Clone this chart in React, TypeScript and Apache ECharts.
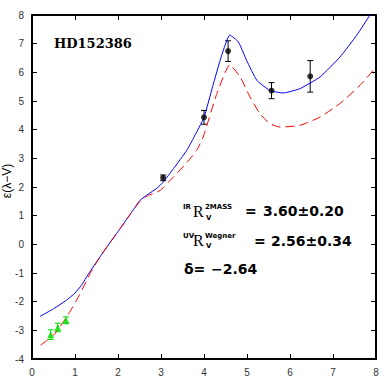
import React, { useEffect, useRef } from "react";
import * as echarts from "echarts";

const blueX = [0.19, 0.5, 0.8, 1.0, 1.15, 1.31, 1.58, 1.81, 2.05, 2.28, 2.51, 2.7, 2.9, 3.05, 3.29, 3.6, 3.75, 4.0, 4.2, 4.41, 4.6, 4.8, 4.99, 5.23, 5.53, 5.84, 6.23, 6.7, 7.16, 7.55, 7.86, 8.0];
const blueY = [-2.51, -2.25, -1.95, -1.7, -1.43, -1.04, -0.44, 0.05, 0.55, 1.04, 1.53, 1.75, 1.95, 2.17, 2.64, 3.28, 3.69, 4.43, 5.5, 6.59, 7.3, 7.06, 6.42, 5.72, 5.37, 5.28, 5.43, 5.84, 6.53, 7.29, 8.0, 8.35];
const redX = [0.2, 0.5, 0.81, 1.12, 1.35, 1.58, 1.81, 2.05, 2.28, 2.51, 2.7, 2.98, 3.29, 3.6, 3.83, 3.98, 4.3, 4.6, 4.84, 5.07, 5.3, 5.53, 5.77, 6.23, 6.7, 7.16, 7.63, 8.0];
const redY = [-3.52, -3.17, -2.53, -1.72, -1.02, -0.44, 0.05, 0.55, 1.04, 1.5, 1.7, 1.88, 2.35, 2.85, 3.28, 3.74, 5.26, 6.27, 5.84, 5.14, 4.56, 4.21, 4.09, 4.15, 4.44, 4.91, 5.55, 6.18];
const obsX = [3.05, 4.0, 4.56, 5.57, 6.47];
const obsY = [2.32, 4.43, 6.74, 5.36, 5.86];
const obsErr = [0.1, 0.24, 0.36, 0.28, 0.55];
const nirX = [0.435, 0.6, 0.79];
const nirY = [-3.15, -2.9, -2.65];
const nirErr = [0.17, 0.15, 0.12];
const xTicks = [0, 1, 2, 3, 4, 5, 6, 7, 8];
const yTicks = [-4, -3, -2, -1, 0, 1, 2, 3, 4, 5, 6, 7, 8];

function errRender(color: string) {
  return (params: any, api: any) => {
    const x = api.value(0), y = api.value(1), e = api.value(2);
    const t = api.coord([x, y + e]);
    const b = api.coord([x, y - e]);
    const w = 3;
    const st = { stroke: color, lineWidth: 1 };
    return {
      type: "group",
      children: [
        { type: "line", shape: { x1: t[0], y1: t[1], x2: b[0], y2: b[1] }, style: st },
        { type: "line", shape: { x1: t[0] - w, y1: t[1], x2: t[0] + w, y2: t[1] }, style: st },
        { type: "line", shape: { x1: b[0] - w, y1: b[1], x2: b[0] + w, y2: b[1] }, style: st },
      ],
    };
  };
}

export default function App() {
  const ref = useRef<HTMLDivElement>(null);
  useEffect(() => {
    const chart = echarts.init(ref.current!, null, { renderer: "svg" });
    const axisLine = { show: true, onZero: false, lineStyle: { color: "#000", width: 2 } };
    const tick = { show: true, inside: true, length: 5, lineStyle: { color: "#000", width: 1 } };
    const lbl = { color: "#333", fontSize: 10, fontFamily: "Liberation Sans, Arial, sans-serif" };
    const sans = "DejaVu Sans, sans-serif";
    const t = (x: number, y: number, text: string, fontSize: number, extra: any = {}) => ({
      type: "text", x, y,
      style: { text, fontSize, fontWeight: "bold", fontFamily: sans, fill: "#000", verticalAlign: "middle", ...extra },
    });
    const rSerif = { fontWeight: "normal", fontFamily: "Liberation Serif, serif" };
    chart.setOption({
      animation: false,
      grid: { left: 32, right: 6, top: 15, bottom: 24, containLabel: false },
      xAxis: [
        { type: "value", min: 0, max: 8, interval: 1, position: "bottom", axisLine, axisTick: tick, splitLine: { show: false }, axisLabel: { ...lbl, margin: 8, formatter: (v: number) => (xTicks.includes(v) ? String(v) : "") } },
        { type: "value", min: 0, max: 8, interval: 1, position: "top", axisLine, axisTick: tick, splitLine: { show: false }, axisLabel: { show: false } },
      ],
      yAxis: [
        { type: "value", min: -4, max: 8, interval: 1, position: "left", axisLine, axisTick: tick, splitLine: { show: false }, axisLabel: { ...lbl, margin: 8, formatter: (v: number) => (yTicks.includes(v) ? String(v) : "") } },
        { type: "value", min: -4, max: 8, interval: 1, position: "right", axisLine, axisTick: tick, splitLine: { show: false }, axisLabel: { show: false } },
      ],
      series: [
        { type: "line", data: blueX.map((x, i) => [x, blueY[i]]), smooth: 0.15, showSymbol: false, clip: true, lineStyle: { color: "#0000ff", width: 1 } },
        { type: "line", data: redX.map((x, i) => [x, redY[i]]), smooth: 0.15, showSymbol: false, clip: true, lineStyle: { color: "#ff0000", width: 1, type: [9, 5] } },
        { type: "custom", renderItem: errRender("#000"), data: obsX.map((x, i) => [x, obsY[i], obsErr[i]]), encode: { x: 0, y: 1 }, z: 3 },
        { type: "scatter", data: obsX.map((x, i) => [x, obsY[i]]), symbol: "circle", symbolSize: 6, itemStyle: { color: "#000" }, z: 4 },
        { type: "custom", renderItem: errRender("#00dd00"), data: nirX.map((x, i) => [x, nirY[i], nirErr[i]]), encode: { x: 0, y: 1 }, z: 3 },
        { type: "scatter", data: nirX.map((x, i) => [x, nirY[i]]), symbol: "triangle", symbolSize: 7, itemStyle: { color: "#00dd00" }, z: 4 },
      ],
      graphic: [
        { type: "text", x: 7, y: 181, rotation: Math.PI / 2, style: { text: "ε(λ−V)", fontSize: 12, fontFamily: "Liberation Sans, sans-serif", fill: "#000", align: "center", verticalAlign: "middle" } },
        t(54, 43, "HD152386", 13, { fontFamily: "DejaVu Serif, serif" }),
        t(183, 207, "IR", 7),
        t(193, 211, "R", 16, rSerif),
        t(205, 207, "2MASS", 7),
        t(206, 218, "V", 7),
        t(245, 211, "=", 14),
        t(263, 211, "3.60±0.20", 14),
        t(183, 236, "UV", 7),
        t(193, 240, "R", 16, rSerif),
        t(205, 236, "Wegner", 7),
        t(206, 246, "V", 7),
        t(254, 241, "=", 14),
        t(271, 241, "2.56±0.34", 14),
        t(184, 269, "δ=", 14),
        t(211, 269, "−2.64", 14),
      ],
    });
    return () => chart.dispose();
  }, []);
  return <div ref={ref} style={{ width: 382, height: 383, position: "absolute", left: 0, top: 0 }} />;
}
